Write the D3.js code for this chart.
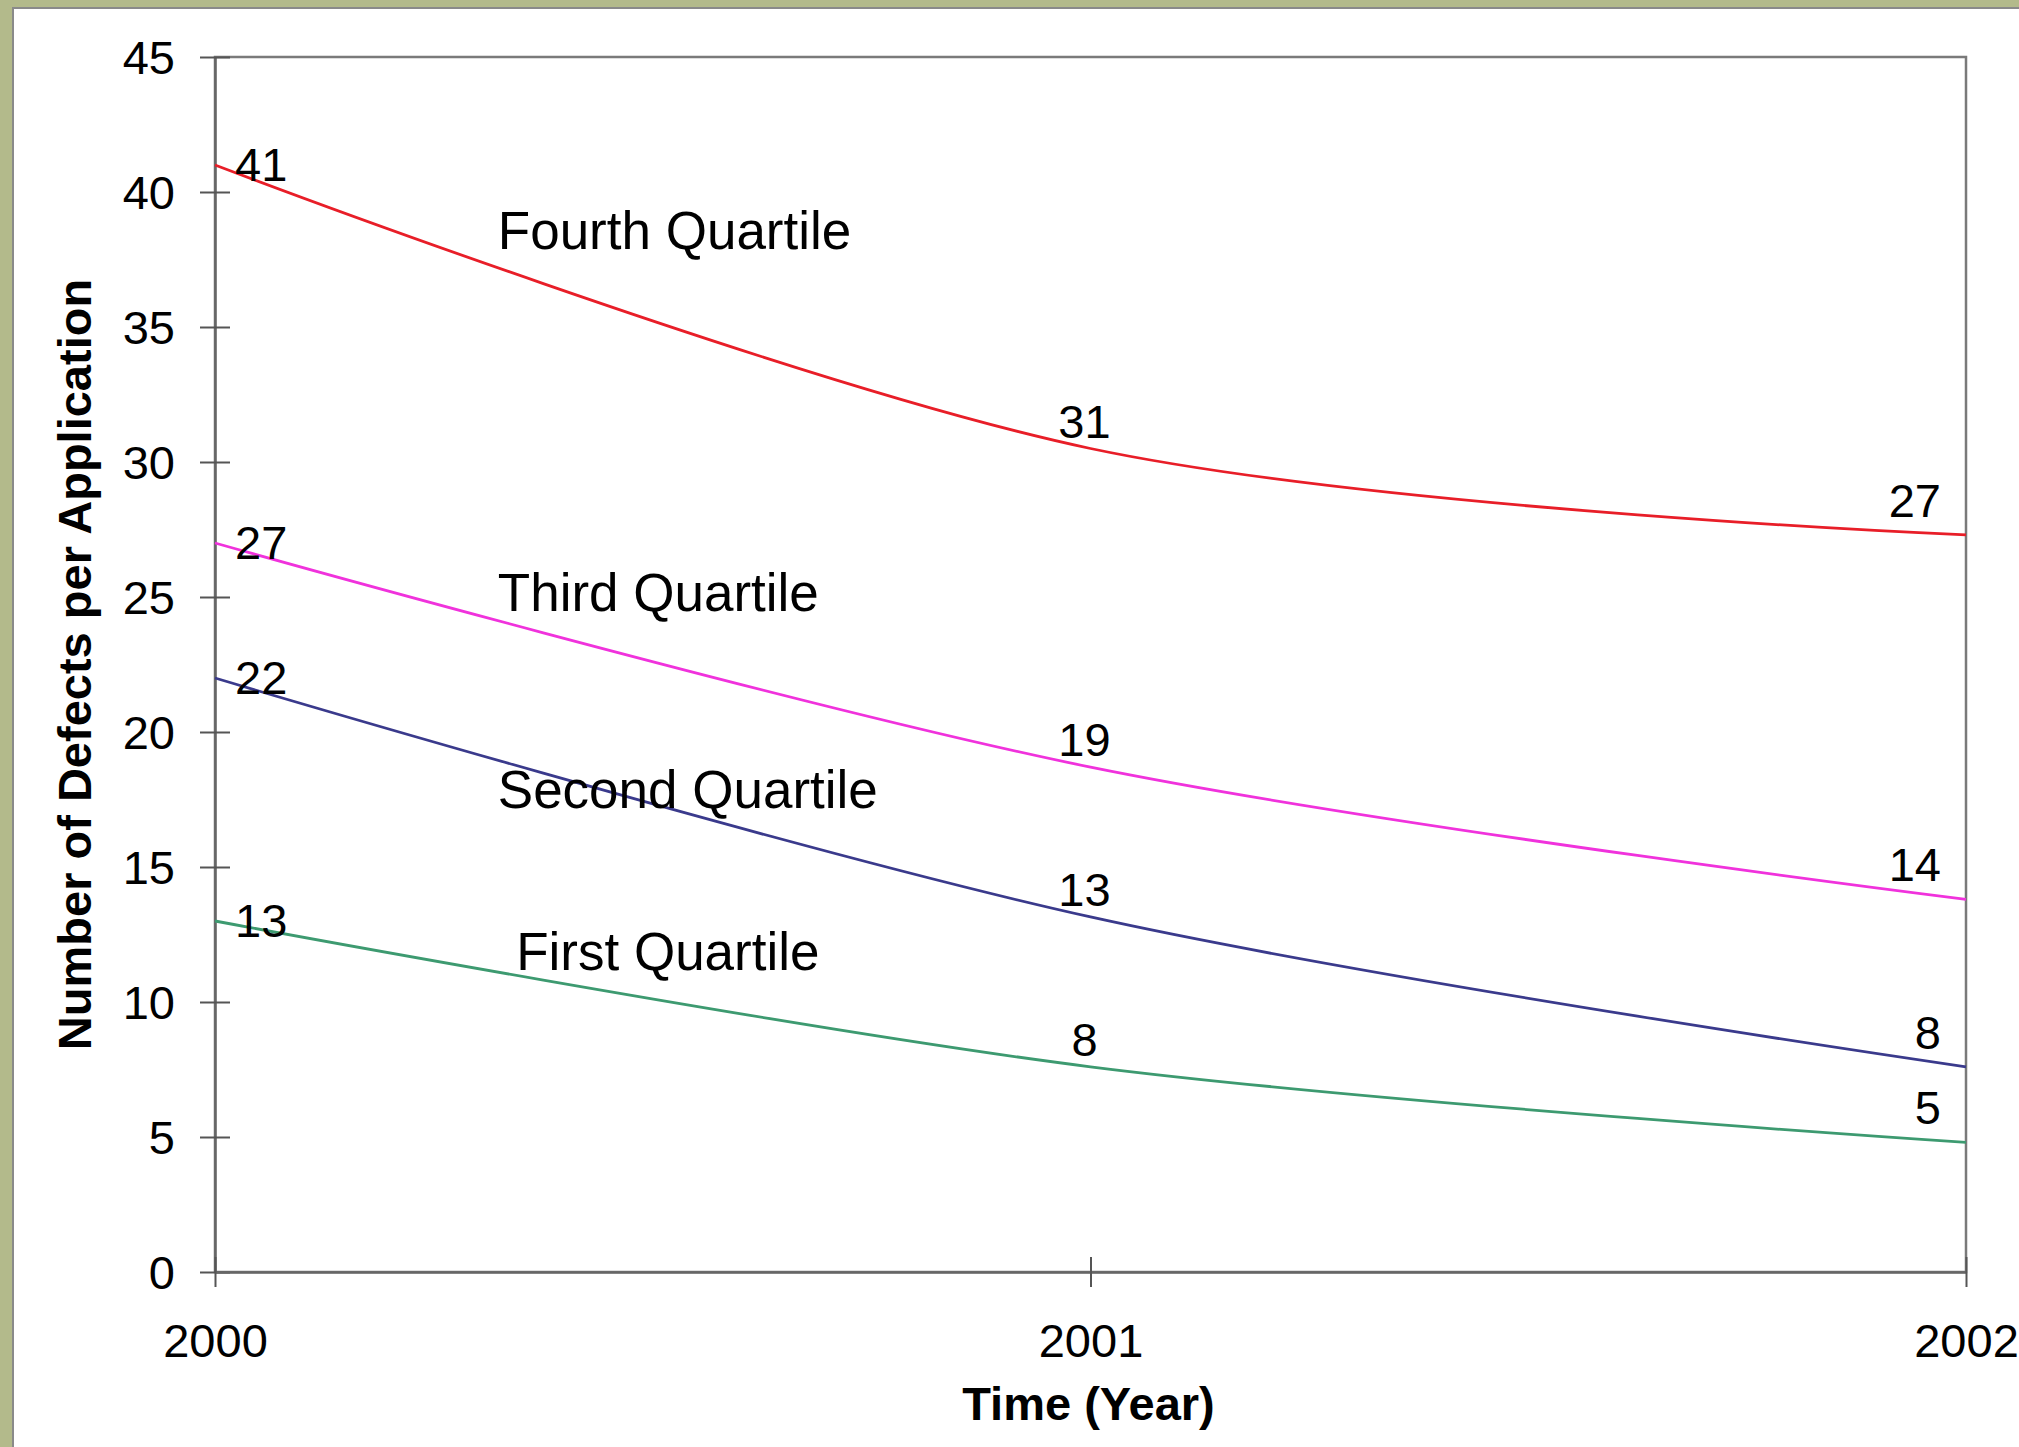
<!DOCTYPE html>
<html>
<head>
<meta charset="utf-8">
<script src="https://cdn.jsdelivr.net/npm/d3@7"></script>
<style>
  html, body { margin: 0; padding: 0; background: #b3ba8b; }
  svg { display: block; }
  text { font-family: "Liberation Sans", Arial, sans-serif; fill: #000; }
</style>
</head>
<body>
<svg id="chart" width="2019" height="1447"></svg>
<script>
// ---- data ----
const years = [2000, 2001, 2002];
const seriesNames = ["Fourth Quartile", "Third Quartile", "Second Quartile", "First Quartile"];
const fourthQuartile = [41, 30.5, 27.3];
const thirdQuartile  = [27, 18.7, 13.8];
const secondQuartile = [22, 13.15, 7.6];
const firstQuartile  = [13, 7.6, 4.8];
const seriesColors = ["#e81e28", "#f032dc", "#3a3a8c", "#3d9a70"];
const yTickValues = [0, 5, 10, 15, 20, 25, 30, 35, 40, 45];
const xTickValues = [2000, 2001, 2002];
const xTitle = "Time (Year)";
const yTitle = "Number of Defects per Application";
// series-name annotation anchors, in data units [year, value]
const seriesLabelAnchor = [[2000.323, 37.9], [2000.323, 24.5], [2000.323, 17.2], [2000.344, 11.2]];

const seriesValues = [fourthQuartile, thirdQuartile, secondQuartile, firstQuartile];

// ---- layout ----
const W = 2019, H = 1447;
const L = 215, R = 1966, T = 57, B = 1272;

const svg = d3.select("#chart");

// white panel with grey edge
svg.append("rect").attr("x", 13).attr("y", 8).attr("width", W).attr("height", H)
  .attr("fill", "#fff").attr("stroke", "#8a8a8a").attr("stroke-width", 2);

const x = d3.scaleLinear().domain([2000, 2002]).range([L, R]);
const y = d3.scaleLinear().domain([0, 45]).range([B, T]);

// plot border
svg.append("rect").attr("x", L).attr("y", T).attr("width", R - L).attr("height", B - T)
  .attr("fill", "none").attr("stroke", "#7a7a7a").attr("stroke-width", 2.5);

// y axis
const yAxis = svg.append("g").attr("transform", `translate(${L},0)`)
  .call(d3.axisLeft(y).tickValues(yTickValues).tickSizeInner(15).tickSizeOuter(0).tickPadding(0));
yAxis.select(".domain").attr("stroke", "#666").attr("stroke-width", 2.5);
yAxis.selectAll(".tick line").attr("x1", -15).attr("x2", 15).attr("stroke", "#555").attr("stroke-width", 2);
yAxis.selectAll(".tick text").attr("x", -40).attr("dy", "0.36em")
  .style("font-size", "47px").attr("fill", "#000");

// x axis
const xAxis = svg.append("g").attr("transform", `translate(0,${B})`)
  .call(d3.axisBottom(x).tickValues(xTickValues).tickFormat(d3.format("d")).tickSizeInner(15).tickSizeOuter(0).tickPadding(0));
xAxis.select(".domain").attr("stroke", "#666").attr("stroke-width", 2.5);
xAxis.selectAll(".tick line").attr("y1", -15).attr("y2", 15).attr("stroke", "#555").attr("stroke-width", 2);
xAxis.selectAll(".tick text").attr("y", 85).attr("dy", 0)
  .style("font-size", "47px").attr("fill", "#000");

// titles
svg.append("text").attr("x", (L + R) / 2 - 2).attr("y", 1420)
  .attr("text-anchor", "middle").style("font-size", "47px").style("font-weight", "bold").text(xTitle);
svg.append("text").attr("transform", `translate(91,${(T + B) / 2}) rotate(-90)`)
  .attr("text-anchor", "middle").style("font-size", "47px").style("font-weight", "bold").text(yTitle);

// lines
const line = d3.line().x(d => x(d[0])).y(d => y(d[1])).curve(d3.curveCardinal.tension(0));
seriesValues.forEach((vals, i) => {
  const pts = years.map((yr, j) => [yr, vals[j]]);
  svg.append("path").datum(pts).attr("d", line)
    .attr("fill", "none").attr("stroke", seriesColors[i]).attr("stroke-width", 2.8);

  // data labels
  pts.forEach((p, j) => {
    const t = svg.append("text").style("font-size", "47px").text(Math.round(p[1]));
    if (j === 0) {
      t.attr("x", x(p[0]) + 20).attr("y", y(p[1]) + 16).attr("text-anchor", "start");
    } else if (j === 1) {
      t.attr("x", x(p[0]) - 6).attr("y", y(p[1]) - 11).attr("text-anchor", "middle");
    } else {
      t.attr("x", x(p[0]) - 25).attr("y", y(p[1]) - 18).attr("text-anchor", "end");
    }
  });

  // series name
  const a = seriesLabelAnchor[i];
  svg.append("text").attr("x", x(a[0])).attr("y", y(a[1]))
    .style("font-size", "53px").text(seriesNames[i]);
});
</script>
</body>
</html>
